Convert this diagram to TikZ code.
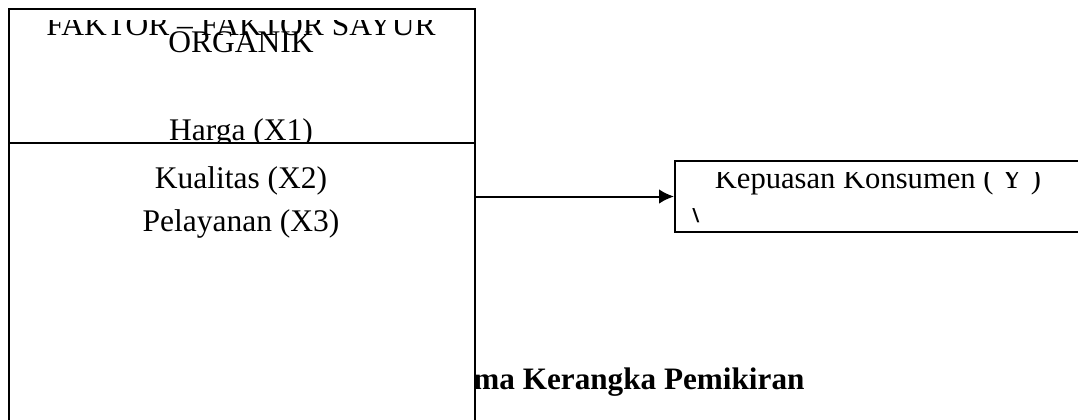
\documentclass[tikz,border=0pt]{standalone}
\usepackage{fontspec}
\setmainfont{Liberation Serif}
\usetikzlibrary{arrows.meta}

\tikzset{
  frame/.style={draw, line width=1pt, inner sep=0pt, anchor=north west},
  boxtext/.style={inner sep=0pt, anchor=base, font=\fontsize{15.75}{21.8}\selectfont},
  captiontext/.style={inner sep=0pt, anchor=base west, font=\fontsize{15.6}{21}\selectfont\bfseries},
  link/.style={line width=1pt, -{Latex[length=7.5pt,width=7.3pt]}}
}

\begin{document}
\begin{tikzpicture}[x=0.5pt,y=-0.5pt]
  \useasboundingbox (0,0) rectangle (1078,419);
  \clip (0,0) rectangle (1078,419);

  % caption, partly hidden behind the indicator box
  \node[captiontext] (caption) at (473,389) {ma Kerangka Pemikiran};

  % upper box: factors heading
  \node[frame, minimum width=233pt, minimum height=67pt] (factors) at (8,8) {};
  \begin{scope}
    \clip (9,20) rectangle (473,160);
    \node[boxtext] (title1) at (241,35) {FAKTOR – FAKTOR SAYUR};
    \node[boxtext] (title2) at (241,52.5) {ORGANIK};
    \node[boxtext] (x1) at (241,140) {Harga (X1)};
  \end{scope}

  % lower box: remaining indicators
  \node[frame, fill=white, minimum width=233pt, minimum height=144.5pt] (indicators) at (8,142) {};
  \node[boxtext] (x2) at (241,188) {Kualitas (X2)};
  \node[boxtext] (x3) at (241,231.5) {Pelayanan (X3)};

  % dependent variable box
  \node[frame, fill=white, minimum width=213pt, minimum height=35.5pt] (satisfaction) at (674,160) {};
  \begin{scope}
    \clip (676,172) rectangle (1078,230);
    \node[boxtext, font=\fontsize{15.3}{21}\selectfont] (y) at (878,188) {Kepuasan Konsumen ( Y )};
  \end{scope}
  \begin{scope}
    \clip (676,208) rectangle (760,230);
    \node[boxtext, anchor=base west, font=\fontsize{15.75}{21.8}\selectfont\bfseries] (mark) at (690,222) {\textbackslash};
  \end{scope}

  % influence arrow
  \draw[link] (indicators.east |- satisfaction.west) -- (satisfaction.west);
\end{tikzpicture}
\end{document}
